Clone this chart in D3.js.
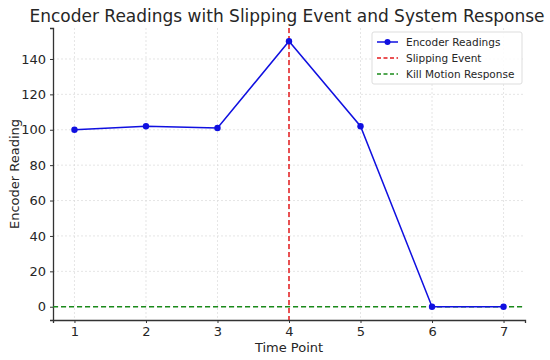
<!DOCTYPE html>
<html>
<head>
<meta charset="utf-8">
<script src="https://cdn.jsdelivr.net/npm/d3@7"></script>
<style>
  body { margin: 0; background: #fff; }
  text { font-family: "DejaVu Sans", sans-serif; fill: #262626; }
</style>
</head>
<body>
<svg id="chart" width="550" height="360"></svg>
<script>
// data
let timePoints = [1, 2, 3, 4, 5, 6, 7];
let readings = [100, 102, 101, 150, 102, 0, 0];
let xTicks = [1, 2, 3, 4, 5, 6, 7];
let yTicks = [0, 20, 40, 60, 80, 100, 120, 140];
let slipAt = 4;
let killLevel = 0;
let legendLabels = ['Encoder Readings', 'Slipping Event', 'Kill Motion Response'];

let w = 550, h = 360;
let margin = { left: 53, right: 25, top: 28, bottom: 40 };
let svg = d3.select('#chart');

let xScale = d3.scaleLinear()
    .domain([0.7, 7.3])
    .range([margin.left, w - margin.right]);
let yScale = d3.scaleLinear()
    .domain([-7.5, 157.5])
    .range([h - margin.bottom, margin.top]);

// grid
let grid = svg.append('g');
grid.selectAll('.vgrid')
    .data(xTicks)
    .enter()
    .append('line')
    .attr('x1', d => xScale(d)).attr('x2', d => xScale(d))
    .attr('y1', margin.top).attr('y2', h - margin.bottom)
    .attr('stroke', '#dadada').attr('stroke-width', 0.7)
    .attr('stroke-dasharray', '2,2');
grid.selectAll('.hgrid')
    .data(yTicks)
    .enter()
    .append('line')
    .attr('x1', margin.left).attr('x2', w - margin.right)
    .attr('y1', d => yScale(d)).attr('y2', d => yScale(d))
    .attr('stroke', '#dadada').attr('stroke-width', 0.7)
    .attr('stroke-dasharray', '2,2');

// axes
let xAxis = d3.axisBottom(xScale).tickValues(xTicks).tickFormat(d3.format('d'))
    .tickSize(3).tickPadding(4);
let yAxis = d3.axisLeft(yScale).tickValues(yTicks).tickFormat(d3.format('d'))
    .tickSize(3).tickPadding(4);

let gx = svg.append('g')
    .attr('transform', 'translate(0,' + (h - margin.bottom) + ')')
    .call(xAxis);
let gy = svg.append('g')
    .attr('transform', 'translate(' + margin.left + ',0)')
    .call(yAxis);
[gx, gy].forEach(g => {
    g.select('.domain').attr('stroke', '#333').attr('stroke-width', 1.3);
    g.selectAll('.tick line').attr('stroke', '#333');
    g.selectAll('.tick text').attr('font-size', 13).attr('fill', '#262626')
        .attr('font-family', '"DejaVu Sans", sans-serif');
});

// axis labels and title
svg.append('text')
    .attr('x', xScale(4)).attr('y', 352)
    .attr('text-anchor', 'middle').attr('font-size', 13)
    .text('Time Point');
svg.append('text')
    .attr('transform', 'translate(19,' + yScale(75) + ') rotate(-90)')
    .attr('text-anchor', 'middle').attr('font-size', 13)
    .text('Encoder Reading');
svg.append('text')
    .attr('x', 287).attr('y', 22)
    .attr('text-anchor', 'middle').attr('font-size', 17)
    .text('Encoder Readings with Slipping Event and System Response');

// reference lines
svg.append('line')
    .attr('x1', xScale(slipAt)).attr('x2', xScale(slipAt))
    .attr('y1', margin.top).attr('y2', h - margin.bottom)
    .attr('stroke', '#e41a1c').attr('stroke-width', 1.5)
    .attr('stroke-dasharray', '5,3');
svg.append('line')
    .attr('x1', margin.left).attr('x2', w - margin.right)
    .attr('y1', yScale(killLevel)).attr('y2', yScale(killLevel))
    .attr('stroke', '#1a8a1a').attr('stroke-width', 1.5)
    .attr('stroke-dasharray', '5,3');

// encoder line + points
let pts = timePoints.map((t, i) => ({ t: t, v: readings[i] }));
let line = d3.line().x(d => xScale(d.t)).y(d => yScale(d.v));
svg.append('path')
    .datum(pts)
    .attr('d', line)
    .attr('fill', 'none')
    .attr('stroke', '#1010e0').attr('stroke-width', 1.5);
svg.selectAll('.dot')
    .data(pts)
    .enter()
    .append('circle')
    .attr('cx', d => xScale(d.t)).attr('cy', d => yScale(d.v))
    .attr('r', 3.2).attr('fill', '#1010e0');

// legend
let lg = svg.append('g').attr('transform', 'translate(372,32)');
lg.append('rect')
    .attr('width', 150).attr('height', 52).attr('rx', 2)
    .attr('fill', 'white').attr('fill-opacity', 0.85)
    .attr('stroke', '#ddd');
let legendStyles = [
    { color: '#1010e0', dash: null, marker: true },
    { color: '#e41a1c', dash: '4,2.5', marker: false },
    { color: '#1a8a1a', dash: '4,2.5', marker: false }
];
legendLabels.forEach((lab, i) => {
    let y = 10 + i * 16;
    lg.append('line')
        .attr('x1', 5).attr('x2', 26).attr('y1', y).attr('y2', y)
        .attr('stroke', legendStyles[i].color).attr('stroke-width', 1.5)
        .attr('stroke-dasharray', legendStyles[i].dash);
    if (legendStyles[i].marker) {
        lg.append('circle').attr('cx', 15.5).attr('cy', y).attr('r', 3)
            .attr('fill', legendStyles[i].color);
    }
    lg.append('text')
        .attr('x', 34).attr('y', y + 3.5)
        .attr('font-size', 10.5)
        .text(lab);
});
</script>
</body>
</html>
